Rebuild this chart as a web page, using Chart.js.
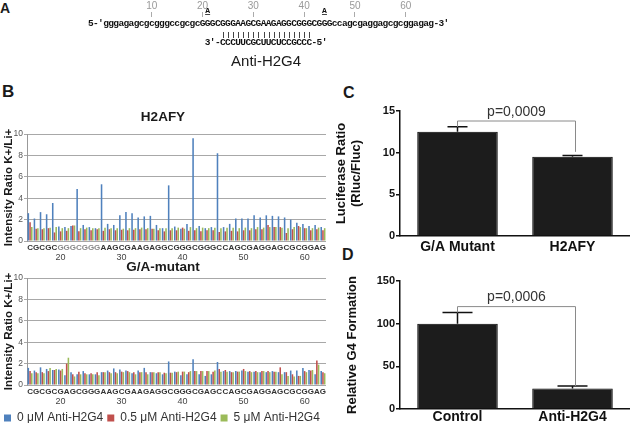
<!DOCTYPE html>
<html>
<head>
<meta charset="utf-8">
<title>H2AFY G4</title>
<script src="https://cdn.jsdelivr.net/npm/chart.js@4.4.1/dist/chart.umd.min.js"></script>
<style>
  html, body { margin: 0; padding: 0; background: #fff; }
  body { position: relative; width: 630px; height: 423px; overflow: hidden; font-family: 'Liberation Sans', Arial, sans-serif; }
  .panel { position: absolute; }
  .tag { position: absolute; font-weight: bold; color: #1a1a1a; line-height: 1; }
</style>
</head>
<body>
<div class="tag" style="left:0px;top:1px;font-size:14px">A</div>
<div class="tag" style="left:2px;top:83px;font-size:17px">B</div>
<div class="tag" style="left:343px;top:85px;font-size:16px">C</div>
<div class="tag" style="left:342px;top:247px;font-size:16px">D</div>

<div class="panel" style="left:0;top:0;width:630px;height:75px"><canvas id="chart-seq"></canvas></div>
<div class="panel" style="left:0;top:104px;width:330px;height:160px"><canvas id="chart-h2afy"></canvas></div>
<div class="panel" style="left:0;top:256px;width:330px;height:178px"><canvas id="chart-mutant"></canvas></div>
<div class="panel" style="left:330px;top:100px;width:300px;height:165px"><canvas id="chart-luc"></canvas></div>
<div class="panel" style="left:330px;top:270px;width:300px;height:160px"><canvas id="chart-g4"></canvas></div>

<script>
Chart.defaults.font.family = "'Liberation Sans', Arial, sans-serif"
Chart.defaults.animation = false

// --- A: target sequence and antisense oligo
const seqTarget = 'gggagagcgcgggccgcgcGGGCGGGAAGCGAAGAGGCGGGCGGGccagcgaggagcgcggagag'
const seqAntisense = "3'-CCCUUCGCUUCUCCGCCC-5'"
const antisenseStart = 21
const pairedPos = [24, 41]
const mutatedPos = [21, 44]
const rulerTicks = [10, 20, 30, 40, 50, 60]

// --- B: reverse transcriptase stop profile, positions 15..63
const firstPos = 15
const lettersH2afy = 'CGCGCGGGCGGGAAGCGAAGAGGCGGGCGGGCCAGCGAGGAGCGCGGAG'.split('')
const lettersMutant = 'CGCGCGAGCGGGAAGCGAAGAGGCGGGCGAGCCAGCGAGGAGCGCGGAG'.split('')
const grayH2afy = [5, 6, 7, 8, 9, 10, 11]
const seriesNames = ['0 μM Anti-H2G4', '0.5 μM Anti-H2G4', '5 μM Anti-H2G4']
const seriesColors = ['#4f81bd', '#c0504d', '#9bbb59']

const h2afyBlue = [2.6, 2.1, 2.7, 2.5, 3.55, 1.35, 1.3, 1.4, 4.85, 1.5, 1.3, 1.2, 5.3, 1.6, 1.5, 2.4, 2.7, 2.6, 2.2, 2.3, 2.35, 1.5, 1.2, 5.2, 1.35, 1.15, 1.6, 9.6, 1.4, 1.2, 1.3, 8.2, 1.3, 1.6, 2.1, 2.1, 2.1, 2.4, 2.2, 2.4, 2.35, 2.3, 2.2, 2.0, 1.7, 1.6, 1.4, 1.5, 1.3]
const h2afyRed = [1.75, 1.15, 1.1, 1.2, 0.8, 0.9, 0.95, 1.45, 0.9, 1.1, 1.0, 1.1, 0.95, 1.1, 1.0, 1.05, 1.0, 1.05, 1.1, 1.1, 1.15, 1.0, 0.9, 1.0, 1.0, 1.25, 0.95, 1.0, 0.9, 1.0, 1.0, 0.85, 0.9, 0.95, 0.9, 1.0, 1.0, 1.1, 1.1, 1.5, 1.3, 1.3, 0.75, 1.1, 1.4, 1.2, 1.0, 1.1, 1.0]
const h2afyGreen = [1.3, 1.2, 1.2, 1.25, 1.3, 1.2, 1.2, 1.45, 1.2, 1.25, 1.2, 1.2, 1.25, 1.2, 1.2, 1.15, 1.2, 1.2, 1.25, 1.2, 1.15, 1.2, 1.2, 1.2, 1.25, 1.15, 1.3, 1.2, 1.25, 1.2, 1.25, 1.2, 1.25, 1.25, 1.2, 1.25, 1.2, 1.3, 1.25, 1.3, 1.3, 1.25, 1.2, 1.3, 1.3, 1.2, 1.2, 1.25, 1.2]

const mutantBlue = [1.6, 1.35, 1.65, 1.5, 1.4, 1.45, 0.9, 1.2, 1.0, 1.3, 1.0, 1.0, 1.2, 1.35, 1.55, 1.45, 1.35, 1.1, 1.35, 1.6, 1.2, 1.1, 1.0, 2.2, 1.25, 0.9, 1.0, 2.4, 1.0, 0.85, 1.0, 2.15, 1.3, 1.3, 1.3, 1.35, 1.25, 1.25, 1.2, 1.2, 1.3, 1.2, 1.2, 1.35, 1.35, 1.6, 1.4, 1.0, 1.3]
const mutantRed = [1.3, 1.2, 1.2, 1.3, 1.4, 1.35, 2.0, 1.0, 1.25, 1.1, 1.1, 1.2, 1.2, 1.2, 1.2, 1.25, 1.3, 1.2, 1.2, 1.2, 1.2, 1.2, 1.15, 1.15, 1.2, 1.25, 1.2, 1.3, 1.3, 1.3, 1.25, 1.5, 1.4, 1.2, 1.25, 1.5, 1.3, 1.3, 1.3, 1.3, 1.25, 1.65, 1.2, 1.0, 0.85, 1.3, 1.35, 2.3, 1.2]
const mutantGreen = [1.1, 1.1, 1.1, 1.6, 1.5, 1.5, 2.55, 0.8, 1.0, 1.0, 1.0, 0.9, 1.2, 1.1, 1.1, 1.2, 1.2, 1.0, 1.2, 1.0, 1.2, 1.2, 1.1, 1.15, 1.25, 1.25, 1.3, 1.3, 1.3, 1.3, 1.35, 1.25, 1.25, 1.2, 1.25, 1.3, 1.2, 1.2, 1.3, 1.2, 1.25, 1.0, 0.85, 0.8, 0.85, 1.2, 1.4, 1.9, 1.1]

// --- C: luciferase reporter
const lucGroups = ['G/A Mutant', 'H2AFY']
const lucMean = [12.5, 9.5]
const lucErr = [0.6, 0.15]
const lucBracket = [13.8, 13.1, 10.1]   // level, left end, right end
const lucP = 'p=0,0009'

// --- D: G4 formation
const g4Groups = ['Control', 'Anti-H2G4']
const g4Mean = [100, 24]
const g4Err = [13, 3]
const g4Bracket = [120, 113, 27]
const g4P = 'p=0,0006'

// draws the sequence rows on top of the ruler axis
const seqText = {
  id: 'seqText',
  afterDraw(chart) {
    const { ctx, chartArea: { top } } = chart
    const x = chart.scales.x
    const full = "5-'" + seqTarget + "-3'"
    ctx.save()
    ctx.textAlign = 'center'
    ctx.textBaseline = 'middle'
    ctx.fillStyle = '#111'
    ctx.font = 'bold 9.5px "Liberation Mono", monospace'
    full.split('').forEach((ch, i) => ctx.fillText(ch, x.getPixelForValue(i - 2), top + 7))
    seqAntisense.split('').forEach((ch, i) => ctx.fillText(ch, x.getPixelForValue(antisenseStart + i), top + 26))

    ctx.font = 'bold 8px "Liberation Mono", monospace'
    ctx.strokeStyle = '#444'
    ctx.lineWidth = 1
    mutatedPos.forEach(p => {
      const px = x.getPixelForValue(p)
      ctx.fillText('A', px, top - 6)
      ctx.beginPath(); ctx.moveTo(px - 2.5, top - 2.5); ctx.lineTo(px + 2.5, top - 2.5); ctx.stroke()
    })
    for (let p = pairedPos[0]; p <= pairedPos[1]; p++) {
      const px = Math.round(x.getPixelForValue(p)) + 0.5
      ctx.beginPath(); ctx.moveTo(px, top + 15); ctx.lineTo(px, top + 21); ctx.stroke()
    }
    ctx.font = '15px "Liberation Sans", Arial, sans-serif'
    ctx.fillStyle = '#1a1a1a'
    ctx.fillText('Anti-H2G4', x.getPixelForValue((pairedPos[0] + pairedPos[1]) / 2), top + 45)
    ctx.restore()
  }
}

// error bars (upper only) + significance bracket for the GraphPad panels
const errorBars = {
  id: 'errorBars',
  afterDatasetsDraw(chart, args, opts) {
    const { ctx } = chart
    const y = chart.scales.y
    const bars = chart.getDatasetMeta(0).data
    ctx.save()
    ctx.strokeStyle = '#111'
    ctx.lineWidth = 1.5
    bars.forEach((bar, i) => {
      const t = y.getPixelForValue(opts.means[i] + opts.errs[i])
      ctx.beginPath()
      ctx.moveTo(bar.x, bar.y); ctx.lineTo(bar.x, t)
      ctx.moveTo(bar.x - opts.cap, t); ctx.lineTo(bar.x + opts.cap, t)
      ctx.stroke()
    })
    const [level, leftEnd, rightEnd] = opts.bracket
    const x0 = bars[0].x, x1 = bars[1].x + 3
    const yl = y.getPixelForValue(level)
    ctx.strokeStyle = '#8a8a8a'
    ctx.lineWidth = 1
    ctx.beginPath()
    ctx.moveTo(x0, y.getPixelForValue(leftEnd)); ctx.lineTo(x0, yl); ctx.lineTo(x1, yl); ctx.lineTo(x1, y.getPixelForValue(rightEnd))
    ctx.stroke()
    ctx.fillStyle = '#333'
    ctx.font = '14px "Liberation Sans", Arial, sans-serif'
    ctx.textAlign = 'center'
    ctx.textBaseline = 'middle'
    ctx.fillText(opts.text, (x0 + x1) / 2, yl - 9)
    ctx.restore()
  }
}

new Chart(document.getElementById('chart-seq'), {
  type: 'scatter',
  data: { datasets: [] },
  options: {
    responsive: true,
    maintainAspectRatio: false,
    layout: { padding: { left: 103.5, right: 196.3 } },
    plugins: { legend: { display: false }, tooltip: { enabled: false } },
    scales: {
      x: {
        type: 'linear', position: 'top', min: 0.5, max: 65.5,
        afterBuildTicks: s => { s.ticks = rulerTicks.map(v => ({ value: v })) },
        grid: { drawOnChartArea: false, tickLength: 5, color: '#aaa' },
        border: { display: false },
        ticks: { color: '#999', font: { size: 10 }, padding: 0, autoSkip: false, maxRotation: 0 }
      },
      y: { display: false, min: 0, max: 1 }
    }
  },
  plugins: [seqText]
})

function seqChart(id, title, titlePad, letters, grayIdx, values, withLegend, lettersH) {
  const numLabels = letters.map((_, i) => (firstPos + i) % 10 === 0 ? String(firstPos + i) : '')
  return new Chart(document.getElementById(id), {
    type: 'bar',
    data: {
      labels: letters,
      datasets: values.map((data, i) => ({
        label: seriesNames[i],
        data,
        backgroundColor: seriesColors[i],
        borderWidth: 0,
        categoryPercentage: 0.85,
        barPercentage: 0.9
      }))
    },
    options: {
      responsive: true,
      maintainAspectRatio: false,
      layout: { padding: { right: 4 } },
      plugins: {
        title: { display: true, text: title, color: '#1a1a1a', font: { size: 13.5, weight: 'bold' }, padding: titlePad },
        legend: withLegend ? {
          position: 'bottom', align: 'start',
          labels: { boxWidth: 7, boxHeight: 7, padding: 4, color: '#333', font: { size: 12 } }
        } : { display: false },
        tooltip: { enabled: false }
      },
      scales: {
        x: {
          weight: 0,
          grid: { display: false, drawTicks: false },
          border: { display: false },
          ticks: {
            autoSkip: false, maxRotation: 0, padding: 2,
            font: { size: 8, weight: 'bold' },
            color: c => grayIdx.includes(c.index) ? '#8a8a8a' : '#333'
          },
          afterFit: s => { s.height = lettersH }
        },
        xnum: {
          type: 'category', labels: numLabels, position: 'bottom', offset: true, weight: 1,
          grid: { display: false, drawTicks: false },
          border: { display: false },
          ticks: { autoSkip: false, maxRotation: 0, padding: 0, font: { size: 9 }, color: '#444' },
          afterFit: s => { s.height = 12 }
        },
        y: {
          min: 0, max: 10,
          ticks: { stepSize: 2, color: '#555', font: { size: 8.5 }, padding: 1 },
          grid: { color: '#a8a8a8', tickLength: 3 },
          border: { color: '#999' },
          title: { display: true, text: 'Intensity Ratio K+/Li+', color: '#1a1a1a', font: { size: 11.5, weight: 'bold' }, padding: { top: 2, bottom: 0 } },
          afterFit: s => { s.width = 27 }
        }
      }
    }
  })
}

seqChart('chart-h2afy', 'H2AFY', { top: 5, bottom: 8.8 }, lettersH2afy, grayH2afy,
  [h2afyBlue, h2afyRed, h2afyGreen], false, 11)
seqChart('chart-mutant', 'G/A-mutant', { top: 2.9, bottom: 2.9 }, lettersMutant, [],
  [mutantBlue, mutantRed, mutantGreen], true, 11)

function barPanel(id, groups, means, errs, bracket, pText, yMax, yStep, yTitle, titleFont, titlePadTop, xH, xPad, cap) {
  return new Chart(document.getElementById(id), {
    type: 'bar',
    data: {
      labels: groups,
      datasets: [{ data: means, backgroundColor: '#1c1c1c', borderColor: '#000', borderWidth: 1, barPercentage: 0.7, categoryPercentage: 1 }]
    },
    options: {
      responsive: true,
      maintainAspectRatio: false,
      layout: { padding: { top: 11 } },
      plugins: {
        legend: { display: false },
        tooltip: { enabled: false },
        errorBars: { means, errs, bracket, text: pText, cap }
      },
      scales: {
        x: {
          grid: { drawOnChartArea: false, drawTicks: false },
          border: { color: '#111', width: 1.5 },
          ticks: { color: '#111', font: { size: 14, weight: 'bold' }, padding: xPad },
          afterFit: s => { s.height = xH }
        },
        y: {
          min: 0, max: yMax,
          ticks: { stepSize: yStep, color: '#111', font: { size: 11, weight: 'bold' }, padding: 1 },
          grid: { drawOnChartArea: false, tickLength: 4, color: '#111', lineWidth: 1.5 },
          border: { color: '#111', width: 1.5 },
          title: { display: true, text: yTitle, color: '#111', font: titleFont, padding: { top: titlePadTop, bottom: 0 } },
          afterFit: s => { s.width = 70 }
        }
      }
    },
    plugins: [errorBars]
  })
}

barPanel('chart-luc', lucGroups, lucMean, lucErr, lucBracket, lucP, 15, 5,
  ['Luciferase Ratio', '(Rluc/Fluc)'], { size: 13, weight: 'bold', lineHeight: 1.15 }, 3.5, 29, 2.6, 10)
barPanel('chart-g4', g4Groups, g4Mean, g4Err, g4Bracket, g4P, 150, 50,
  'Relative G4 Formation', { size: 13, weight: 'bold' }, 15, 21, 0, 15)
</script>
</body>
</html>
